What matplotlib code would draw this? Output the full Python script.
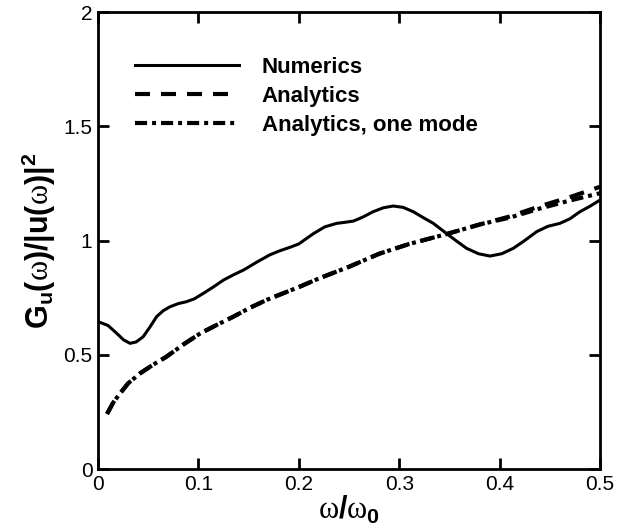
import numpy as np
import matplotlib
matplotlib.use("Agg")
import matplotlib.pyplot as plt

plt.rcParams['font.family'] = ['Liberation Sans', 'DejaVu Sans']
plt.rcParams['mathtext.fontset'] = 'custom'
plt.rcParams['mathtext.bf'] = 'Liberation Sans:bold'
plt.rcParams['mathtext.rm'] = 'Liberation Serif'
plt.rcParams['mathtext.it'] = 'Liberation Sans:bold'

# numerics (solid)
num_x = [0, 0.01, 0.0186, 0.0255, 0.0319, 0.038, 0.045, 0.0515, 0.0584, 0.065,
         0.0717, 0.08, 0.088, 0.096, 0.105, 0.115, 0.125, 0.135, 0.145, 0.158,
         0.171, 0.181, 0.191, 0.2, 0.2145, 0.226, 0.2377, 0.2465, 0.2543, 0.264,
         0.274, 0.284, 0.294, 0.304, 0.314, 0.324, 0.334, 0.347, 0.357, 0.367,
         0.379, 0.3904, 0.402, 0.4137, 0.425, 0.437, 0.448, 0.46, 0.47, 0.48,
         0.49, 0.5]
num_y = [0.645, 0.628, 0.594, 0.565, 0.55, 0.556, 0.579, 0.62, 0.667, 0.693,
         0.71, 0.724, 0.732, 0.745, 0.769, 0.797, 0.827, 0.85, 0.871, 0.905,
         0.937, 0.955, 0.970, 0.985, 1.03, 1.06, 1.075, 1.08, 1.085, 1.103,
         1.126, 1.143, 1.151, 1.145, 1.126, 1.1, 1.075, 1.031, 0.998, 0.966,
         0.942, 0.932, 0.942, 0.966, 1.0, 1.039, 1.062, 1.075, 1.095, 1.126,
         1.15, 1.177]

# analytics
ana_x = [0.009, 0.015, 0.022, 0.03, 0.042, 0.055, 0.068, 0.085, 0.102, 0.118,
         0.135, 0.151, 0.168, 0.185, 0.201, 0.22, 0.25, 0.28, 0.31, 0.347,
         0.38, 0.41, 0.44, 0.47, 0.5]
ana_y = [0.241, 0.29, 0.331, 0.375, 0.419, 0.457, 0.491, 0.545, 0.594, 0.63,
         0.667, 0.705, 0.74, 0.77, 0.798, 0.834, 0.885, 0.942, 0.985, 1.028,
         1.07, 1.105, 1.15, 1.19, 1.235]
one_y = [0.241, 0.29, 0.331, 0.375, 0.419, 0.457, 0.491, 0.545, 0.594, 0.63,
         0.667, 0.705, 0.74, 0.77, 0.798, 0.834, 0.885, 0.942, 0.985, 1.028,
         1.07, 1.1, 1.14, 1.175, 1.207]

labels = ["Numerics", "Analytics", "Analytics, one mode"]
xticks = [0, 0.1, 0.2, 0.3, 0.4, 0.5]
yticks = [0, 0.5, 1, 1.5, 2]

fig = plt.figure(figsize=(6.18, 5.29), dpi=100)
ax = fig.add_axes([0.1586, 0.1134, 0.8123, 0.8639])

ax.plot(num_x, num_y, color='black', lw=2.2, label=labels[0])
ax.plot(ana_x, ana_y, color='black', lw=3, linestyle=(0, (3.6, 2.64)), label=labels[1])
ax.plot(ana_x, one_y, color='black', lw=3, linestyle=(0, (2.9, 1.2, 0.95, 1.2)), label=labels[2])

ax.set_xlim(0, 0.5)
ax.set_ylim(0, 2)
ax.set_xticks(xticks)
ax.set_xticklabels(["0", "0.1", "0.2", "0.3", "0.4", "0.5"])
ax.set_yticks(yticks)
ax.set_yticklabels(["0", "0.5", "1", "1.5", "2"])
ax.tick_params(direction='in', length=8, width=2, labelsize=15, pad=4,
               top=True, right=True)
for s in ax.spines.values():
    s.set_linewidth(2)

ax.set_xlabel(r'$\mathrm{ω}\mathbf{/}\mathrm{ω}_\mathbf{0}$', fontsize=22, labelpad=0)
ax.set_ylabel(r'$\mathbf{G_u(}\mathrm{ω}\mathbf{)/|u(}\mathrm{ω}\mathbf{)|^2}$',
              fontsize=22, labelpad=4)

leg = ax.legend(loc='upper left', bbox_to_anchor=(0.0737, 0.902), frameon=False,
                prop={'weight': 'bold', 'size': 16}, handlelength=4.7,
                handletextpad=1.0, labelspacing=0.37, borderpad=0, borderaxespad=0)

fig.savefig("out.png", dpi=100)
